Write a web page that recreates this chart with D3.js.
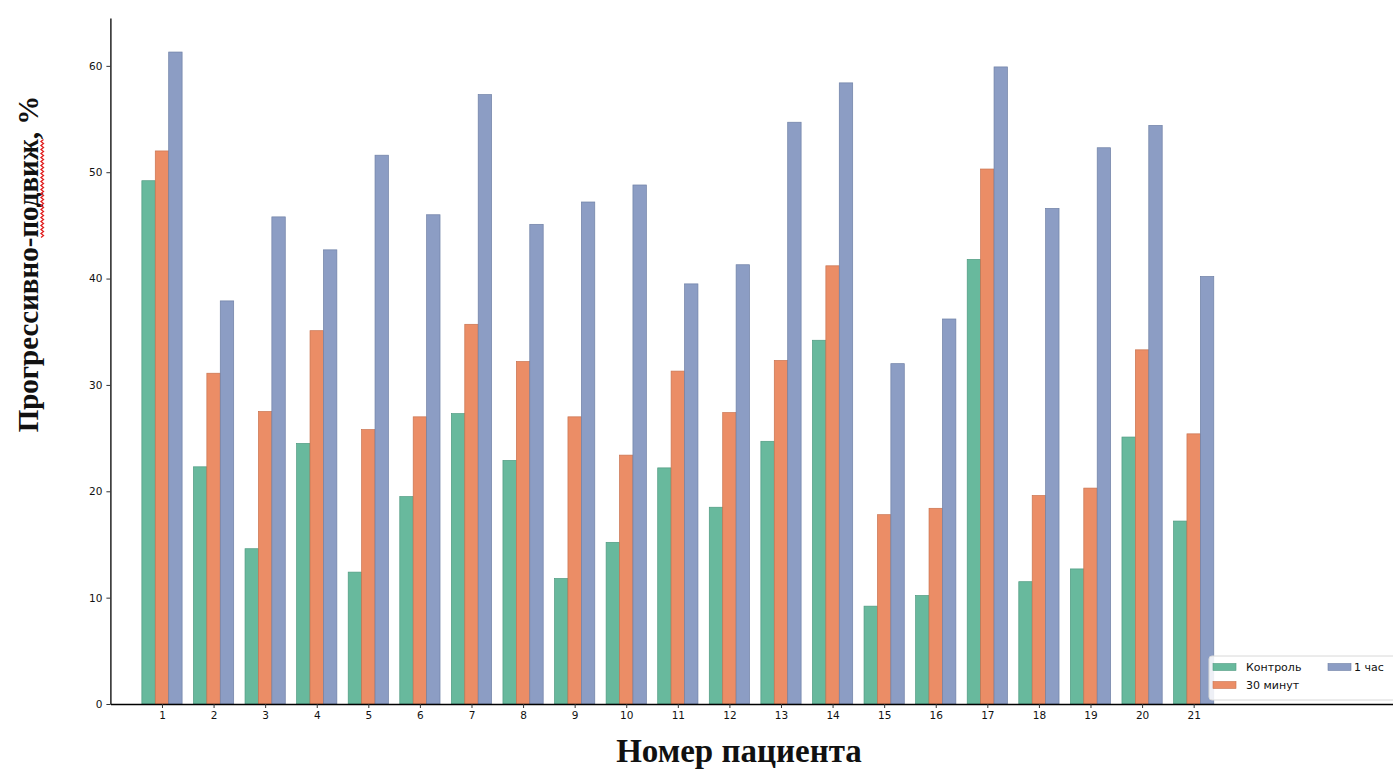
<!DOCTYPE html>
<html>
<head>
<meta charset="utf-8">
<script src="https://cdn.jsdelivr.net/npm/d3@7"></script>
<style>
body { margin: 0; background: #fff; }
svg { display: block; }
</style>
</head>
<body>
<svg id="chart"></svg>
<script>
let w = 1393
let h = 769

// data
let patients = [1, 2, 3, 4, 5, 6, 7, 8, 9, 10, 11, 12, 13, 14, 15, 16, 17, 18, 19, 20, 21]
let control = [49.2, 22.3, 14.6, 24.5, 12.4, 19.5, 27.3, 22.9, 11.8, 15.2, 22.2, 18.5, 24.7, 34.2, 9.2, 10.2, 41.8, 11.5, 12.7, 25.1, 17.2]
let min30 = [52.0, 31.1, 27.5, 35.1, 25.8, 27.0, 35.7, 32.2, 27.0, 23.4, 31.3, 27.4, 32.3, 41.2, 17.8, 18.4, 50.3, 19.6, 20.3, 33.3, 25.4]
let hour1 = [61.3, 37.9, 45.8, 42.7, 51.6, 46.0, 57.3, 45.1, 47.2, 48.8, 39.5, 41.3, 54.7, 58.4, 32.0, 36.2, 59.9, 46.6, 52.3, 54.4, 40.2]
let seriesNames = ["Контроль", "30 минут", "1 час"]
let yTicks = [0, 10, 20, 30, 40, 50, 60]

let colorArr = ["#68b99d", "#eb8d66", "#8c9dc4"]
let edgeArr = ["#4f9a80", "#c9734f", "#6f80a6"]

let svg = d3.select('#chart')
  .attr('width', w)
  .attr('height', h)

let x = d3.scaleLinear().domain([0, 25]).range([110.4, 1400])
let y = d3.scaleLinear().domain([0, 64.5]).range([704, 18])

let barW = x(0.26) - x(0)
let seriesArr = [control, min30, hour1]

// bars
seriesArr.forEach((vals, k) => {
  svg.append('g')
    .selectAll('rect')
    .data(vals)
    .join('rect')
    .attr('x', (d, i) => x(patients[i]) + (k - 1) * barW - barW / 2)
    .attr('y', (d) => y(d))
    .attr('width', barW)
    .attr('height', (d) => y(0) - y(d))
    .attr('fill', colorArr[k])
    .attr('stroke', edgeArr[k])
    .attr('stroke-width', 0.7)
})

// axes
svg.append('g')
  .attr('transform', 'translate(' + x(0) + ',0)')
  .call(d3.axisLeft(y).tickValues(yTicks).tickSize(4).tickSizeOuter(0).tickPadding(4))

svg.append('g')
  .attr('transform', 'translate(0,' + y(0) + ')')
  .call(d3.axisBottom(x).tickValues(patients).tickSize(4).tickSizeOuter(0).tickPadding(4))

svg.selectAll('.domain').attr('stroke', '#000').attr('stroke-width', 1.3)
svg.selectAll('.tick line').attr('stroke', '#333')
svg.selectAll('.tick text')
  .attr('fill', '#111')
  .style('font-family', 'DejaVu Sans')
  .style('font-size', '10.5px')

// axis titles
svg.append('text')
  .text('Номер пациента')
  .attr('x', 739)
  .attr('y', 762)
  .attr('text-anchor', 'middle')
  .style('font-family', 'Liberation Serif')
  .style('font-weight', 'bold')
  .style('font-size', '33px')
  .attr('fill', '#111')

let yTitleG = svg.append('g')
  .attr('transform', 'translate(38,264) rotate(-90)')

let yTitle = yTitleG.append('text')
  .text('Прогрессивно-подвиж, %')
  .attr('x', 0)
  .attr('y', 0)
  .attr('text-anchor', 'middle')
  .style('font-family', 'Liberation Serif')
  .style('font-weight', 'bold')
  .style('font-size', '29px')
  .attr('fill', '#111')

// spell-check squiggle under "подвиж"
let full = yTitle.node().getComputedTextLength()
let idx = 'Прогрессивно-'.length
let sx = -full / 2 + yTitle.node().getSubStringLength(0, idx)
let sw = yTitle.node().getSubStringLength(idx, 6)
let pts = []
for (let t = 0; t <= sw; t += 2) pts.push([sx + t, 3 + ((t / 2) % 2) * 2.5])
yTitleG.append('path')
  .attr('d', d3.line()(pts))
  .attr('fill', 'none')
  .attr('stroke', '#e02020')
  .attr('stroke-width', 1.3)

// legend
let legend = svg.append('g')
legend.append('rect')
  .attr('x', 1209)
  .attr('y', 656)
  .attr('width', 200)
  .attr('height', 44)
  .attr('fill', '#fff')
  .attr('fill-opacity', 0.85)
  .attr('stroke', '#d8d8d8')
  .attr('rx', 3)

let legPos = [[1213, 667], [1213, 685], [1328, 667]]
let legendItem = legend.selectAll('g.item')
  .data(seriesNames)
  .join('g')
  .attr('class', 'item')
  .attr('transform', (d, i) => 'translate(' + legPos[i][0] + ',' + legPos[i][1] + ')')

legendItem.append('rect')
  .attr('x', 0)
  .attr('y', -3.5)
  .attr('width', 23)
  .attr('height', 7)
  .attr('fill', (d, i) => colorArr[i])
  .attr('stroke', (d, i) => edgeArr[i])
  .attr('stroke-width', 0.6)

legendItem.append('text')
  .text((d) => d)
  .attr('x', (d, i) => i == 2 ? 26 : 33)
  .attr('y', 4)
  .style('font-family', 'DejaVu Sans')
  .style('font-size', '11px')
  .attr('fill', '#111')
</script>
</body>
</html>
